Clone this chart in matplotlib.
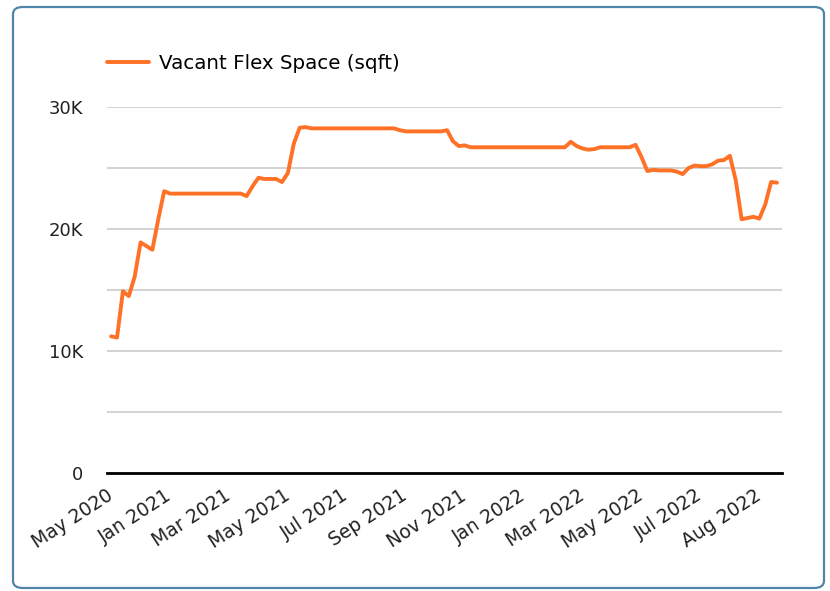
import matplotlib
matplotlib.use("Agg")
import matplotlib.pyplot as plt
from matplotlib.patches import FancyBboxPatch
from matplotlib.ticker import MultipleLocator, FuncFormatter

plt.rcParams['font.family'] = ['DejaVu Sans']

# vacant flex space (sqft), one value per reporting date, in thousands
vacant_k = [
    11.2, 11.1, 14.9, 14.5, 16.1, 18.9, 18.6, 18.3, 20.8, 23.1,
    22.9, 22.9, 22.9, 22.9, 22.9, 22.9, 22.9, 22.9, 22.9, 22.9,
    22.9, 22.9, 22.9, 22.7, 23.5, 24.2, 24.1, 24.1, 24.1, 23.85,
    24.6, 27.0, 28.3, 28.35, 28.25, 28.25, 28.25, 28.25, 28.25, 28.25,
    28.25, 28.25, 28.25, 28.25, 28.25, 28.25, 28.25, 28.25, 28.25, 28.1,
    28.0, 28.0, 28.0, 28.0, 28.0, 28.0, 28.0, 28.1, 27.2, 26.8,
    26.85, 26.7, 26.7, 26.7, 26.7, 26.7, 26.7, 26.7, 26.7, 26.7,
    26.7, 26.7, 26.7, 26.7, 26.7, 26.7, 26.7, 26.7, 27.15, 26.8,
    26.6, 26.5, 26.55, 26.7, 26.7, 26.7, 26.7, 26.7, 26.7, 26.9,
    25.9, 24.75, 24.85, 24.8, 24.8, 24.8, 24.7, 24.5, 25.0, 25.2,
    25.15, 25.15, 25.3, 25.6, 25.65, 26.0, 24.0, 20.8, 20.9, 21.0,
    20.85, 22.0, 23.85, 23.8,
]
vacant = [v * 1000 for v in vacant_k]

tick_labels = ['May 2020', 'Jan 2021', 'Mar 2021', 'May 2021', 'Jul 2021',
               'Sep 2021', 'Nov 2021', 'Jan 2022', 'Mar 2022', 'May 2022',
               'Jul 2022', 'Aug 2022']
tick_step = 10

fig = plt.figure(figsize=(8.3, 5.91), dpi=100)

# rounded card border
card = FancyBboxPatch((13/830, 1 - 588/591), (824-13)/830, (588-7)/591,
                      boxstyle="round,pad=0,rounding_size=0.012",
                      transform=fig.transFigure, fill=False,
                      edgecolor='#4f86a8', linewidth=1.6)
fig.patches.append(card)

ax = fig.add_axes([107/830, 1 - 473/591, (782-107)/830, (473-107)/591])

x = list(range(len(vacant)))
ax.plot(x, vacant, color='#ff7127', linewidth=2.8, solid_joinstyle='round',
        solid_capstyle='round', label='Vacant Flex Space (sqft)', clip_on=False)

ax.set_xlim(-0.7, len(vacant) - 1 + 0.85)
ax.set_ylim(0, 30000)

ax.yaxis.set_major_locator(MultipleLocator(10000))
ax.yaxis.set_minor_locator(MultipleLocator(5000))
ax.yaxis.set_major_formatter(FuncFormatter(lambda v, p: '0' if v == 0 else f'{int(v/1000)}K'))
ax.grid(True, which='both', axis='y', color='#d0d0d0', linewidth=1.3)
ax.set_axisbelow(True)

ax.set_xticks(range(0, tick_step * len(tick_labels), tick_step))
ax.set_xticklabels(tick_labels, rotation=33, ha='right', va='center',
                   rotation_mode='anchor')

for s in ['top', 'right', 'left']:
    ax.spines[s].set_visible(False)
ax.spines['bottom'].set_color('black')
ax.spines['bottom'].set_linewidth(2)
ax.tick_params(axis='both', which='both', length=0, colors='#222222')
ax.tick_params(axis='y', labelsize=13, pad=17)
ax.tick_params(axis='x', labelsize=13.5, pad=15)

ax.legend(loc='center left', bbox_to_anchor=(0.0, 1.12), frameon=False,
          fontsize=14.3, handlelength=2.1, handletextpad=0.5, borderaxespad=0,
          borderpad=0)

fig.savefig('out.png', dpi=100)
